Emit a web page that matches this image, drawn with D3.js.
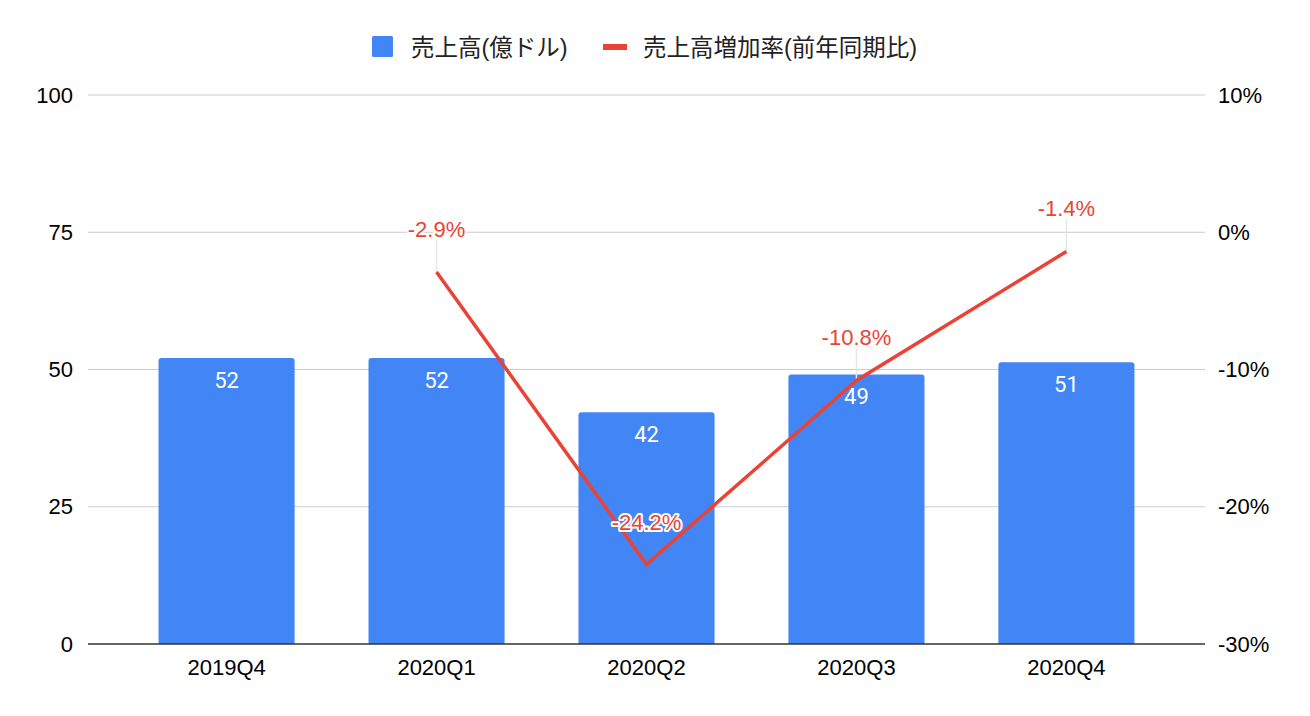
<!DOCTYPE html>
<html>
<head>
<meta charset="utf-8">
<script src="https://cdn.jsdelivr.net/npm/d3@7"></script>
<style>
  body { margin: 0; background: #fff; }
  svg text { font-family: Arial, "Liberation Sans", "Noto Sans CJK JP", sans-serif; }
</style>
</head>
<body>
<div id="chart"></div>
<script>
// data
const quarters = ["2019Q4", "2020Q1", "2020Q2", "2020Q3", "2020Q4"];
const sales = [52.1, 52.1, 42.2, 49.1, 51.3];
const salesLabels = ["52", "52", "42", "49", "51"];
const growth = [null, -2.9, -24.2, -10.8, -1.4];
const leftTicks = [0, 25, 50, 75, 100];
const rightTicks = [-30, -20, -10, 0, 10];

const width = 1310;
const height = 716;
const plotLeft = 88, plotRight = 1205, plotTop = 95, plotBottom = 644;
const blue = "#4285f4";
const red = "#ea4335";
const axisFont = "Arial, 'Liberation Sans', sans-serif";
const labelFont = "Roboto, Arial, sans-serif";

const svg = d3.select("#chart").append("svg")
  .attr("width", width)
  .attr("height", height);

const x = d3.scaleBand()
  .domain(quarters)
  .range([plotLeft, plotRight])
  .paddingInner(0.352)
  .paddingOuter(0.336);

const y = d3.scaleLinear().domain([0, 100]).range([plotBottom, plotTop]);
const y2 = d3.scaleLinear().domain([-30, 10]).range([plotBottom, plotTop]);

// gridlines
svg.append("g").selectAll("line")
  .data(leftTicks.slice(1))
  .join("line")
  .attr("x1", plotLeft).attr("x2", plotRight)
  .attr("y1", d => y(d)).attr("y2", d => y(d))
  .attr("stroke", "#cccccc")
  .attr("stroke-width", 1);

// left axis
const yAxis = d3.axisLeft(y).tickValues(leftTicks).tickSize(0).tickPadding(15);
const gl = svg.append("g").attr("transform", `translate(${plotLeft},0)`).call(yAxis);
gl.select(".domain").remove();
gl.selectAll("text").attr("font-size", 22).attr("fill", "#000")
  .style("font-family", axisFont);

// right axis
const y2Axis = d3.axisRight(y2).tickValues(rightTicks).tickSize(0).tickPadding(13)
  .tickFormat(d => d + "%");
const gr = svg.append("g").attr("transform", `translate(${plotRight},0)`).call(y2Axis);
gr.select(".domain").remove();
gr.selectAll("text").attr("font-size", 22).attr("fill", "#000")
  .style("font-family", axisFont);

// bars with slightly rounded tops
const r = 3;
svg.append("g").selectAll("path")
  .data(quarters)
  .join("path")
  .attr("fill", blue)
  .attr("d", (q, i) => {
    const x0 = x(q), x1 = x(q) + x.bandwidth();
    const yt = y(sales[i]), yb = y(0);
    return `M${x0},${yb}V${yt + r}Q${x0},${yt} ${x0 + r},${yt}H${x1 - r}Q${x1},${yt} ${x1},${yt + r}V${yb}Z`;
  });

// bar labels
svg.append("g").selectAll("text")
  .data(quarters)
  .join("text")
  .attr("x", q => x(q) + x.bandwidth() / 2)
  .attr("y", (q, i) => y(sales[i]) + 30)
  .attr("text-anchor", "middle")
  .attr("font-size", 22)
  .attr("fill", "#fff")
  .style("font-family", labelFont)
  .text((q, i) => salesLabels[i]);

// x axis baseline + labels
svg.append("line")
  .attr("x1", plotLeft).attr("x2", plotRight)
  .attr("y1", y(0)).attr("y2", y(0))
  .attr("stroke", "#333").attr("stroke-width", 1.5);

const xAxis = d3.axisBottom(x).tickSize(0).tickPadding(15);
const gx = svg.append("g").attr("transform", `translate(0,${plotBottom})`).call(xAxis);
gx.select(".domain").remove();
gx.selectAll("text").attr("font-size", 22).attr("fill", "#000")
  .style("font-family", axisFont);

// growth line
const pts = quarters.map((q, i) => ({ q, v: growth[i] })).filter(d => d.v !== null);
const cx = d => x(d.q) + x.bandwidth() / 2;

const line = d3.line().x(cx).y(d => y2(d.v));

// leader lines for labels above the points
const above = pts.filter(d => d.v !== -24.2);
svg.append("g").selectAll("line")
  .data(above)
  .join("line")
  .attr("x1", cx).attr("x2", cx)
  .attr("y1", d => y2(d.v) - 32).attr("y2", d => y2(d.v))
  .attr("stroke", "#e6e6e6").attr("stroke-width", 1.5);

svg.append("path")
  .datum(pts)
  .attr("d", line)
  .attr("fill", "none")
  .attr("stroke", red)
  .attr("stroke-width", 3.5);

// growth labels
const gLab = svg.append("g")
  .style("font-family", labelFont)
  .attr("font-size", 22)
  .attr("text-anchor", "middle");

gLab.selectAll("text.above")
  .data(above)
  .join("text")
  .attr("class", "above")
  .attr("x", cx)
  .attr("y", d => y2(d.v) - 35)
  .attr("fill", red)
  .attr("stroke", "#fff").attr("stroke-width", 3).attr("paint-order", "stroke")
  .text(d => d.v.toFixed(1) + "%");

const low = pts.filter(d => d.v === -24.2);
gLab.selectAll("text.low")
  .data(low)
  .join("text")
  .attr("class", "low")
  .attr("x", cx)
  .attr("y", d => y2(d.v) - 34)
  .attr("fill", red)
  .attr("stroke", "#fff").attr("stroke-width", 4).attr("paint-order", "stroke")
  .attr("stroke-linejoin", "round")
  .text(d => d.v.toFixed(1) + "%");

// legend
const lg = svg.append("g").style("font-family", "'Noto Sans CJK JP', sans-serif");
lg.append("rect").attr("x", 372).attr("y", 36).attr("width", 21).attr("height", 21)
  .attr("rx", 1.5).attr("fill", blue);
lg.append("text").attr("x", 411).attr("y", 56).attr("font-size", 23.5).attr("fill", "#222")
  .text("売上高(億ドル)");
lg.append("rect").attr("x", 603).attr("y", 44).attr("width", 24).attr("height", 6).attr("fill", red);
lg.append("text").attr("x", 643).attr("y", 56).attr("font-size", 23.5).attr("fill", "#222")
  .text("売上高増加率(前年同期比)");
</script>
</body>
</html>
